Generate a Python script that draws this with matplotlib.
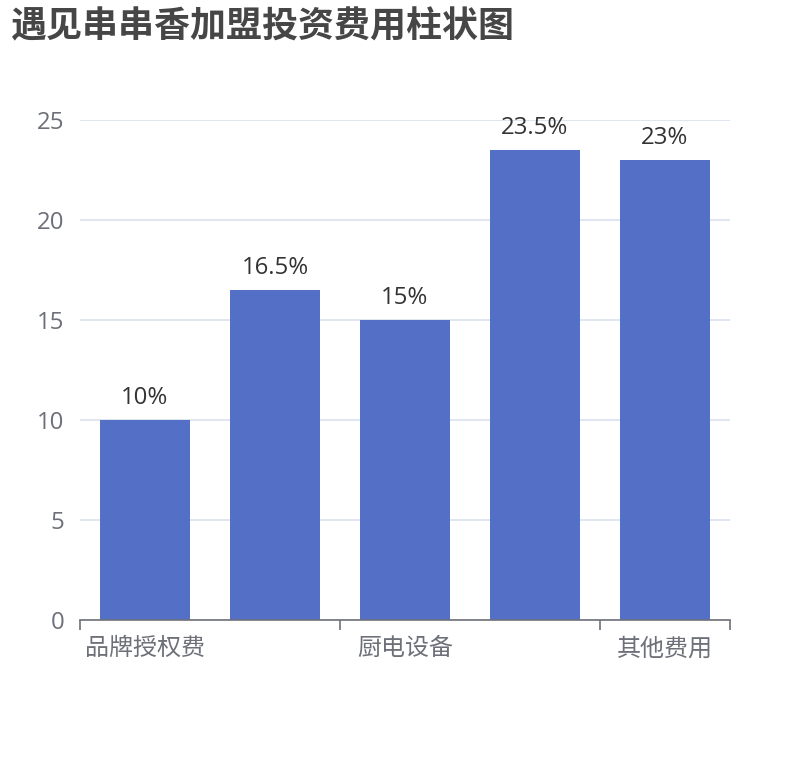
import matplotlib
matplotlib.use("Agg")
import matplotlib.pyplot as plt
from matplotlib.ticker import FixedLocator

plt.rcParams['font.family'] = ['Open Sans', 'Noto Sans CJK SC', 'DejaVu Sans']

title = "遇见串串香加盟投资费用柱状图"
categories = ["品牌授权费", "店面装修费", "厨电设备", "首批进货费", "其他费用"]
values = [10, 16.5, 15, 23.5, 23]
labels = ["10%", "16.5%", "15%", "23.5%", "23%"]
yticks = [0, 5, 10, 15, 20, 25]
shown_label_idx = [0, 2, 4]

W, H = 810, 760
fig = plt.figure(figsize=(W / 100, H / 100), dpi=100)
ax = fig.add_axes([80 / W, 1 - 620 / H, 650 / W, 500 / H])

x = list(range(len(categories)))
ax.bar(x, values, width=0.69, color="#5470C6", zorder=3)

for xi, v, lab in zip(x, values, labels):
    ax.annotate(lab, (xi, v), xytext=(0, 11.3), textcoords="offset points",
                ha="center", va="baseline", fontsize=17.3, color="#333333", zorder=4)

ax.set_xlim(-0.5, len(categories) - 0.5)
ax.set_ylim(0, 25)

ax.set_yticks(yticks)
ax.tick_params(axis="y", length=0, pad=11.5, labelsize=17.3, labelcolor="#6E7079")
ax.grid(axis="y", color="#E0E6F1", linewidth=1.44, zorder=0)
ax.grid(axis="x", visible=False)

ax.xaxis.set_major_locator(FixedLocator([-0.5, 1.5, 3.5, 4.5]))
ax.set_xticklabels([])
ax.xaxis.set_minor_locator(FixedLocator([x[i] for i in shown_label_idx]))
ax.set_xticklabels([categories[i] for i in shown_label_idx], minor=True,
                   family=['Noto Sans CJK SC', 'DejaVu Sans'])
ax.tick_params(axis="x", which="major", length=7.2, width=1.2, color="#6E7079", direction="out")
ax.tick_params(axis="x", which="minor", length=0, pad=11, labelsize=17.3, labelcolor="#6E7079")

for s in ["top", "right", "left"]:
    ax.spines[s].set_visible(False)
ax.spines["bottom"].set_color("#6E7079")
ax.spines["bottom"].set_linewidth(1.2)
ax.spines["bottom"].set_zorder(5)

fig.text(10 / W, 1 - 8 / H, title, ha="left", va="top", fontsize=25.9,
         fontweight="bold", color="#464646", family=['Noto Sans CJK SC', 'DejaVu Sans'])

fig.savefig("out.png", dpi=100)
